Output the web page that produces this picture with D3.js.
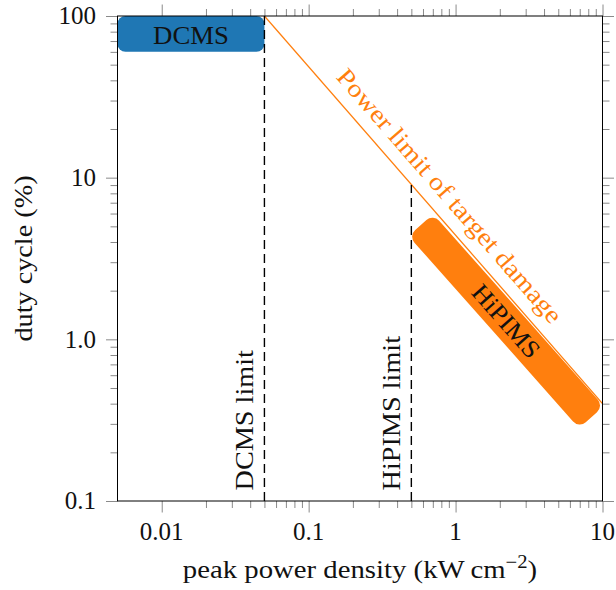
<!DOCTYPE html>
<html>
<head>
<meta charset="utf-8">
<script src="https://cdn.jsdelivr.net/npm/d3@7"></script>
<style>
  html, body { margin: 0; padding: 0; background: #fff; }
  svg { display: block; }
  text { font-family: "Liberation Serif", "Times New Roman", serif; }
</style>
</head>
<body>
<svg id="chart" width="616" height="590"></svg>
<script>
// ---- data ----
const xDomain = [0.005, 10];
const yDomain = [0.1, 100];
const xTicks = [0.01, 0.1, 1, 10];
const xTickLabels = ["0.01", "0.1", "1", "10"];
const yTicks = [0.1, 1, 10, 100];
const yTickLabels = ["0.1", "1.0", "10", "100"];
const xMinorDecades = [0.01, 0.1, 1];
const yMinorDecades = [0.1, 1, 10];
const minorMultiples = [2, 3, 4, 5, 6, 7, 8, 9];

const dcmsX = [0.005, 0.05];
const dcmsY = [60, 100];
const hipimsX = [0.58, 8.4];
const hipimsY = [5.1, 0.33];
const powerLimitX = [0.05, 10];
const powerLimitY = [100, 0.4];
const dcmsLimitX = [0.05, 0.05];
const dcmsLimitY = [0.1, 100];
const hipimsLimitX = [0.5, 0.5];
const hipimsLimitY = [0.1, 9];

const xLabel = "peak power density (kW\u2009cm";
const yLabel = "duty cycle (%)";

// ---- layout ----
const svg = d3.select("#chart");
const L = 117.5, R = 602.5, T = 16, B = 501;
const x = d3.scaleLog().domain(xDomain).range([L, R]);
const y = d3.scaleLog().domain(yDomain).range([B, T]);
const blue = "#1f77b4", orange = "#ff7f0e";
const stretch = 1.13;

svg.append("defs").append("clipPath").attr("id", "clip")
  .append("rect").attr("x", L).attr("y", T).attr("width", R - L).attr("height", B - T);
const plot = svg.append("g").attr("clip-path", "url(#clip)");

// DCMS box
plot.append("rect")
  .attr("x", x(dcmsX[0])).attr("y", y(dcmsY[1]))
  .attr("width", x(dcmsX[1]) - x(dcmsX[0]))
  .attr("height", y(dcmsY[0]) - y(dcmsY[1]))
  .attr("rx", 8).attr("ry", 8)
  .attr("fill", blue);

// HiPIMS band
const hx0 = x(hipimsX[0]), hy0 = y(hipimsY[0]), hx1 = x(hipimsX[1]), hy1 = y(hipimsY[1]);
const hLen = Math.hypot(hx1 - hx0, hy1 - hy0);
const hAng = Math.atan2(hy1 - hy0, hx1 - hx0) * 180 / Math.PI;
const bandW = 33;
const band = plot.append("g").attr("transform", `translate(${hx0},${hy0}) rotate(${hAng})`);
band.append("rect")
  .attr("x", 0).attr("y", -bandW / 2).attr("width", hLen).attr("height", bandW)
  .attr("rx", 9).attr("ry", 9).attr("fill", orange);

// power limit line
const lineGen = d3.line().x(d => x(d[0])).y(d => y(d[1]));
const powerPts = powerLimitX.map((v, i) => [v, powerLimitY[i]]);
plot.append("path").attr("d", lineGen(powerPts))
  .attr("fill", "none").attr("stroke", orange).attr("stroke-width", 1.3);

// dashed limits
[[dcmsLimitX, dcmsLimitY], [hipimsLimitX, hipimsLimitY]].forEach(([xs, ys]) => {
  const pts = xs.map((v, i) => [v, ys[i]]);
  plot.append("path").attr("d", lineGen(pts))
    .attr("fill", "none").attr("stroke", "#000").attr("stroke-width", 1.4)
    .attr("stroke-dasharray", "9,5");
});

// ---- annotations ----
// DCMS label
svg.append("g").attr("transform", `translate(${(x(dcmsX[0]) + x(dcmsX[1])) / 2},43.5) scale(1.07,1)`)
  .append("text").attr("text-anchor", "middle").attr("font-size", 25).attr("fill", "#111").text("DCMS");

// HiPIMS label
const hcx = (hx0 + hx1) / 2, hcy = (hy0 + hy1) / 2;
svg.append("g").attr("transform", `translate(${hcx},${hcy}) rotate(${hAng}) scale(1.07,1)`)
  .append("text").attr("text-anchor", "middle").attr("y", 8.5).attr("font-size", 25).attr("fill", "#111").text("HiPIMS");

// Power limit label
const px0 = x(powerLimitX[0]), py0 = y(powerLimitY[0]), px1 = x(powerLimitX[1]), py1 = y(powerLimitY[1]);
const pAng = Math.atan2(py1 - py0, px1 - px0) * 180 / Math.PI;
svg.append("g").attr("transform", `translate(${(px0 + px1) / 2},${(py0 + py1) / 2}) rotate(${pAng}) scale(${stretch},1)`)
  .append("text").attr("text-anchor", "middle").attr("y", -13).attr("font-size", 25).attr("fill", orange)
  .text("Power limit of target damage");

// vertical limit labels
svg.append("g").attr("transform", `translate(${x(dcmsLimitX[0]) - 11.5},490.5) rotate(-90) scale(${stretch},1)`)
  .append("text").attr("text-anchor", "start").attr("font-size", 25).attr("fill", "#111").text("DCMS limit");
svg.append("g").attr("transform", `translate(${x(hipimsLimitX[0]) - 11.5},490.5) rotate(-90) scale(${stretch},1)`)
  .append("text").attr("text-anchor", "start").attr("font-size", 25).attr("fill", "#111").text("HiPIMS limit");

// ---- axes ----
const tickColor = "#8a8a8a";
const majorLen = 11.5, minorLen = 7;
const xMinor = [];
xMinorDecades.forEach(d => minorMultiples.forEach(m => xMinor.push(d * m)));
const yMinor = [];
yMinorDecades.forEach(d => minorMultiples.forEach(m => yMinor.push(d * m)));

function fmt() { return ""; }
// bottom
svg.append("g").attr("transform", `translate(0,${B})`)
  .call(d3.axisBottom(x).tickValues(xMinor).tickSize(minorLen).tickFormat(fmt));
svg.append("g").attr("transform", `translate(0,${B})`)
  .call(d3.axisBottom(x).tickValues(xTicks).tickSize(majorLen).tickFormat(fmt));
// top
svg.append("g").attr("transform", `translate(0,${T})`)
  .call(d3.axisTop(x).tickValues(xMinor).tickSize(minorLen).tickFormat(fmt));
svg.append("g").attr("transform", `translate(0,${T})`)
  .call(d3.axisTop(x).tickValues(xTicks).tickSize(majorLen).tickFormat(fmt));
// left
svg.append("g").attr("transform", `translate(${L},0)`)
  .call(d3.axisLeft(y).tickValues(yMinor).tickSize(minorLen).tickFormat(fmt));
svg.append("g").attr("transform", `translate(${L},0)`)
  .call(d3.axisLeft(y).tickValues(yTicks).tickSize(majorLen).tickFormat(fmt));
// right
svg.append("g").attr("transform", `translate(${R},0)`)
  .call(d3.axisRight(y).tickValues(yMinor).tickSize(minorLen).tickFormat(fmt));
svg.append("g").attr("transform", `translate(${R},0)`)
  .call(d3.axisRight(y).tickValues(yTicks).tickSize(majorLen).tickFormat(fmt));

svg.selectAll(".domain").remove();
svg.selectAll(".tick line").attr("stroke", tickColor).attr("stroke-width", 1);
svg.selectAll(".tick text").remove();

// frame
svg.append("rect").attr("x", L).attr("y", T).attr("width", R - L).attr("height", B - T)
  .attr("fill", "none").attr("stroke", "#000").attr("stroke-width", 1);

// tick labels
svg.append("g").selectAll("text").data(xTicks).join("text")
  .attr("x", d => x(d)).attr("y", 540).attr("text-anchor", "middle")
  .attr("font-size", 25).attr("fill", "#111")
  .text((d, i) => xTickLabels[i]);
svg.append("g").selectAll("text").data(yTicks).join("text")
  .attr("x", 96).attr("y", d => y(d) + 8.4).attr("text-anchor", "end")
  .attr("font-size", 25).attr("fill", "#111")
  .text((d, i) => yTickLabels[i]);

// axis titles
const xt = svg.append("g").attr("transform", `translate(${(L + R) / 2},578) scale(1.15,1)`)
  .append("text").attr("text-anchor", "middle").attr("font-size", 25).attr("fill", "#111");
xt.append("tspan").text(xLabel);
xt.append("tspan").attr("dy", -10).attr("font-size", 18).text("\u22122");
xt.append("tspan").attr("dy", 10).text(")");

svg.append("g").attr("transform", `translate(32,${(T + B) / 2}) rotate(-90) scale(${stretch},1)`)
  .append("text").attr("text-anchor", "middle").attr("font-size", 25).attr("fill", "#111").text(yLabel);
</script>
</body>
</html>
